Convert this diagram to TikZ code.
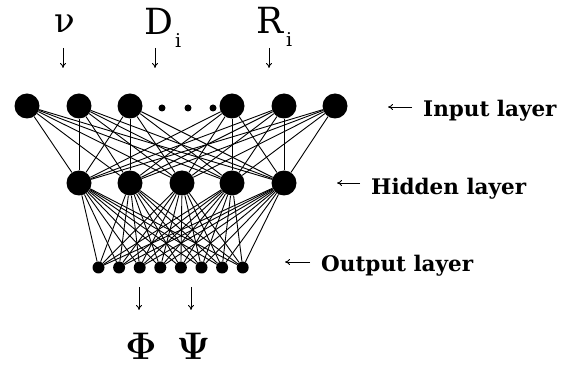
\RequirePackage{fix-cm}
\documentclass[tikz,border=0pt]{standalone}
\usepackage{fontspec}
\usepackage{amsmath}
\usetikzlibrary{arrows.meta}
\newfontfamily\lblfont{DejaVu Serif}
\begin{document}
\begin{tikzpicture}[x=1pt,y=-1pt,
  bignode/.style={circle,fill=black,minimum size=25pt,inner sep=0pt},
  outnode/.style={circle,fill=black,minimum size=12pt,inner sep=0pt},
  dotnode/.style={circle,fill=black,minimum size=7pt,inner sep=0pt},
  conn/.style={line width=0.9pt},
  arr/.style={line width=0.9pt,-{To[length=5pt,width=6pt]}},
  layerlbl/.style={anchor=base west,inner sep=0pt,font=\lblfont\bfseries\fontsize{21.5}{24}\selectfont},
  sym/.style={anchor=base west,inner sep=0pt,font=\lblfont\fontsize{36}{40}\selectfont},
  subi/.style={anchor=base west,inner sep=0pt,font=\lblfont\fontsize{19}{22}\selectfont},
  outsym/.style={anchor=base,inner sep=0pt,font=\fontsize{38.5}{42}\selectfont}]
\useasboundingbox (0,0) rectangle (574,366);
% input layer
\foreach \n/\x in {1/27,2/79,3/130,4/232,5/284,6/335}
  \node[bignode] (i\n) at (\x,106) {};
\foreach \n/\x in {1/162,2/188,3/213}
  \node[dotnode] (d\n) at (\x,108) {};
% hidden layer
\foreach \n/\x in {1/79,2/130,3/182,4/232,5/284}
  \node[bignode] (h\n) at (\x,183) {};
% output layer
\foreach \n in {1,...,8}
  \node[outnode] (o\n) at ({98.5+20.6*(\n-1)},267.5) {};
% connections
\foreach \a in {1,...,6}
  \foreach \b in {1,...,5}
    \draw[conn] (i\a) -- (h\b);
\foreach \a in {1,...,5}
  \foreach \b in {1,...,8}
    \draw[conn] (h\a) -- (o\b);
% input labels
\node[anchor=base,inner sep=0pt,font=\lblfont\fontsize{34}{40}\selectfont] (nu) at (65,33) {ν};
\node[sym] (D) at (144,35) {D};
\node[subi] (Di) at (175,48) {i};
\node[sym] (R) at (256,34) {R};
\node[subi] (Ri) at (286,47) {i};
\coordinate (nuA) at (63,48);  \coordinate (nuB) at (63,68);
\coordinate (DA) at (155,48);  \coordinate (DB) at (155,68);
\coordinate (RA) at (269,48);  \coordinate (RB) at (269,68);
\draw[arr] (nuA) -- (nuB);
\draw[arr] (DA) -- (DB);
\draw[arr] (RA) -- (RB);
% outputs
\coordinate (phA) at (139,287); \coordinate (phB) at (139,310);
\coordinate (psA) at (191,287); \coordinate (psB) at (191,310);
\draw[arr] (phA) -- (phB);
\draw[arr] (psA) -- (psB);
\node[outsym] (Phi) at (141,360) {$\boldsymbol{\Phi}$};
\node[outsym] (Psi) at (193.5,360) {$\boldsymbol{\Psi}$};
% layer labels
\node[layerlbl] (lin) at (423,117) {Input layer};
\node[layerlbl] (lhid) at (371,195) {Hidden layer};
\node[layerlbl] (lout) at (321,272) {Output layer};
\coordinate (linA) at (412,107); \coordinate (linB) at (388,107);
\coordinate (lhA) at (360,183); \coordinate (lhB) at (337,183);
\coordinate (loA) at (310,262); \coordinate (loB) at (285,262);
\draw[arr] (linA) -- (linB);
\draw[arr] (lhA) -- (lhB);
\draw[arr] (loA) -- (loB);
\end{tikzpicture}
\end{document}
